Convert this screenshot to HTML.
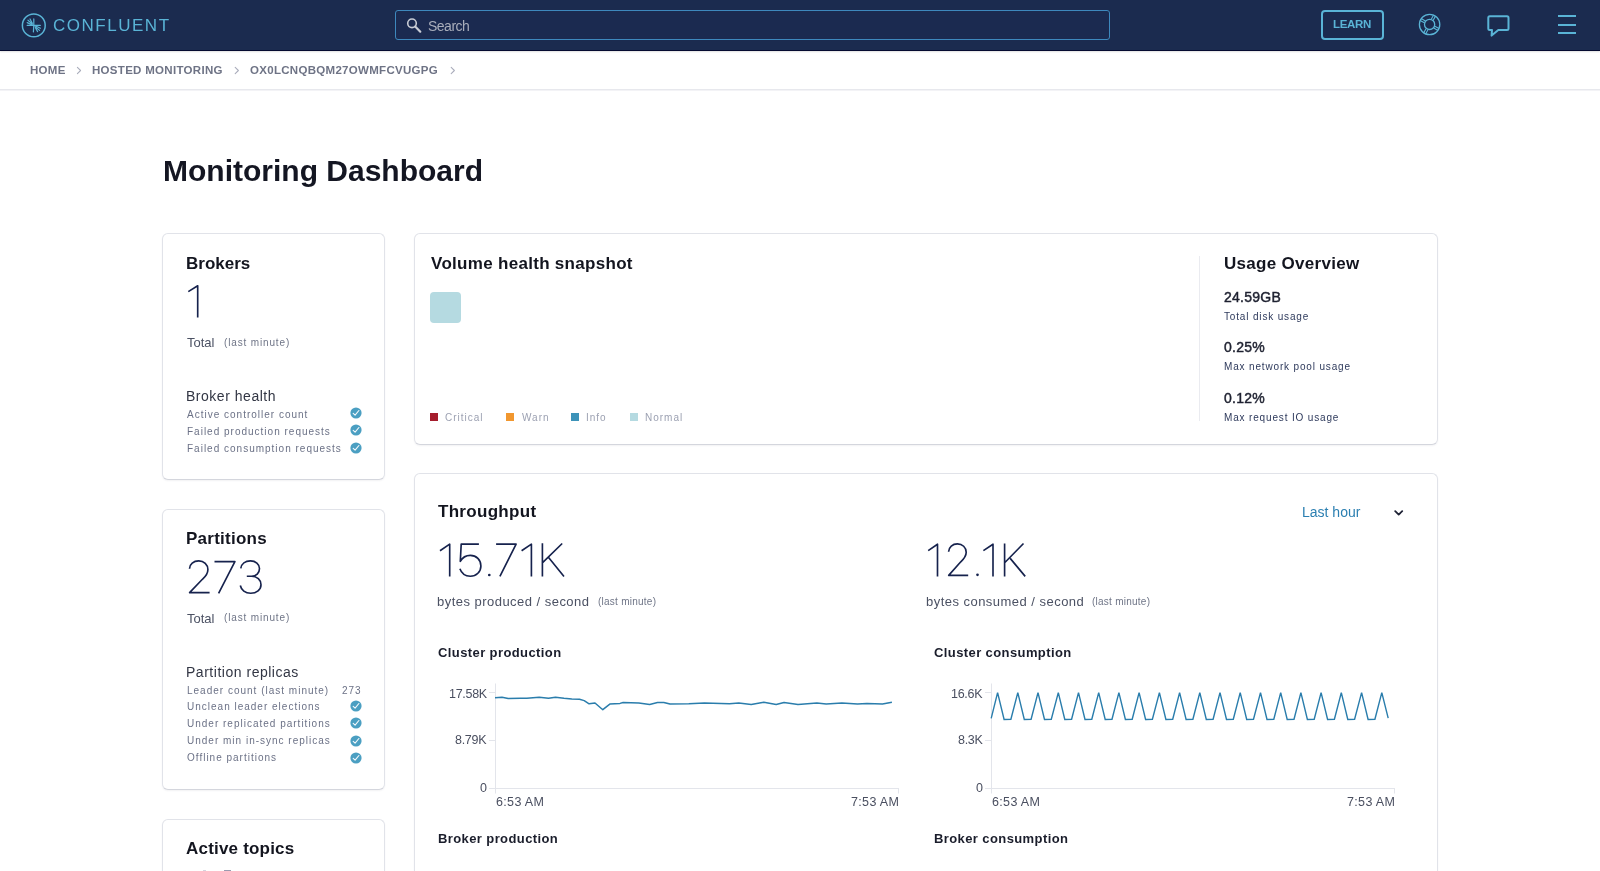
<!DOCTYPE html>
<html><head><meta charset="utf-8"><title>Monitoring Dashboard</title>
<style>
*{box-sizing:border-box;margin:0;padding:0}
html,body{width:1600px;height:871px;overflow:hidden;background:#fff;font-family:"Liberation Sans",sans-serif;color:#13151f}
.a{position:absolute;white-space:nowrap;line-height:1;will-change:transform}
#nav{position:absolute;left:0;top:0;width:1600px;height:51px;background:#1b2b4f;border-bottom:1px solid #050a30;box-shadow:0 1px 1.5px rgba(0,0,0,.12)}
#crumb{position:absolute;left:0;top:51px;width:1600px;height:39px;border-bottom:1px solid #e7e8ed;box-shadow:0 1px 0 #f3f3f6}
.card{position:absolute;border:1px solid #e1e3e9;border-bottom-color:#d4d6dd;border-radius:6px;background:#fff;box-shadow:0 1px 2px rgba(30,40,70,.06)}
.ttl{font-size:17px;font-weight:bold;letter-spacing:.3px;color:#13151f}
.tot{font-size:13px;color:#4b5163}
.lm{font-size:10px;letter-spacing:.85px;color:#6f7587}
.sub{font-size:14px;letter-spacing:.52px;color:#323644}
.row{font-size:10px;letter-spacing:1px;color:#6b7186}
.lg{font-size:10px;letter-spacing:1px;color:#9ca1b2}
.sq{position:absolute;width:8px;height:8px}
.uv{font-size:14px;letter-spacing:.25px;color:#1e2130;-webkit-text-stroke:.45px #1e2130}
.ul{font-size:10px;letter-spacing:.84px;color:#2e3a5c}
.ax{font-size:12.5px;color:#4a4f60;letter-spacing:-.3px}
.bc{top:14px;font-size:11.5px;font-weight:bold;letter-spacing:.3px;color:#6e7385}
.h3{font-size:13px;font-weight:bold;letter-spacing:.4px;color:#1a1d2b}
</style></head>
<body>
<div id="nav">
  <!-- logo -->
  <svg class="a" style="left:21px;top:13px" width="26" height="26" viewBox="0 0 26 26">
    <circle cx="12.8" cy="12.4" r="11.4" fill="none" stroke="#5ab4d6" stroke-width="1.5"/>
    <g stroke="#5ab4d6" stroke-width="1.2" stroke-linecap="round" fill="none">
      <path d="M12.8,12.4 L12.8,5.9 M12.8,12.4 L6.2,12.4 M12.8,12.4 L19.3,12.4 M12.8,12.4 L12.4,18.9"/>
      <path d="M11.6,11.2 L7.0,7.2 M11.2,10.0 L9.0,6.0 M10.4,11.6 L6.2,9.6"/>
      <path d="M14.0,13.6 L18.6,17.4 M14.4,14.8 L16.6,18.6 M15.2,13.2 L19.4,15.2"/>
    </g>
  </svg>
  <div class="a" style="left:53.4px;top:16.6px;font-size:17px;letter-spacing:1.52px;color:#5ab4d6">CONFLUENT</div>
  <!-- search -->
  <div class="a" style="left:395px;top:10px;width:715px;height:30px;border:1px solid #3e88bd;border-radius:3px;background:#1b2a50"></div>
  <div class="a" style="left:427.8px;top:18.95px;font-size:14px;letter-spacing:-.5px;color:#a9aebb">Search</div>
  <!-- learn -->
  <div class="a" style="left:1321px;top:10px;width:63px;height:29.5px;border:2px solid #5ab4d6;border-radius:4px"></div>
  <div class="a" style="left:1333.3px;top:19px;font-size:11.5px;font-weight:bold;letter-spacing:-.3px;color:#5ab4d6">LEARN</div>
  <svg class="a" style="left:404px;top:15px" width="20" height="20" viewBox="0 0 20 20">
    <circle cx="8" cy="8.3" r="4.3" fill="none" stroke="#c8ccd5" stroke-width="1.6"/>
    <path d="M11.2,11.5 L16.3,16.7" stroke="#c8ccd5" stroke-width="2.2" stroke-linecap="round"/>
  </svg>
  <svg class="a" style="left:1417px;top:12px" width="26" height="26" viewBox="0 0 26 26">
    <g fill="none" stroke="#5ab4d6" stroke-width="1.3">
      <circle cx="12.6" cy="12.5" r="10.2"/>
      <circle cx="12.6" cy="12.4" r="5.1"/>
      <path d="M14.26,7.24 L16.58,3.05 M16.18,8.31 L18.51,4.11 M17.86,14.16 L22.05,16.48 M16.79,16.08 L20.99,18.41 M10.94,17.76 L8.62,21.95 M9.02,16.69 L6.69,20.89 M7.34,10.84 L3.15,8.52 M8.41,8.92 L4.21,6.59" stroke-width="1.1"/>
    </g>
  </svg>
  <svg class="a" style="left:1480px;top:5px" width="40" height="40" viewBox="1480 5 40 40">
    <path d="M1492,30.1 L1489.8,30.1 Q1488.3,30.1 1488.3,28.6 L1488.3,17.8 Q1488.3,16.3 1489.8,16.3 L1507,16.3 Q1508.5,16.3 1508.5,17.8 L1508.5,28.6 Q1508.5,30.1 1507,30.1 L1498.3,30.1 L1491.6,35.6 Z" fill="none" stroke="#5ab4d6" stroke-width="2" stroke-linejoin="round"/>
  </svg>
  <div class="a" style="left:1557.5px;top:15px;width:18.2px;height:2px;background:#5ab4d6"></div>
  <div class="a" style="left:1557.5px;top:23.6px;width:18.2px;height:2px;background:#5ab4d6"></div>
  <div class="a" style="left:1557.5px;top:32.1px;width:18.2px;height:2px;background:#5ab4d6"></div>
</div>
<div id="crumb">
  <div class="a bc" style="left:29.8px">HOME</div>
  <div class="a bc" style="left:92.3px">HOSTED MONITORING</div>
  <div class="a bc" style="left:250.2px">OX0LCNQBQM27OWMFCVUGPG</div>
  <svg class="a" style="left:0;top:0" width="600" height="38" viewBox="0 51 600 38">
    <g fill="none" stroke="#a9acbb" stroke-width="1.05" stroke-linecap="round" stroke-linejoin="round">
      <path d="M77.4,67.4 L80.6,70.5 L77.4,73.6"/>
      <path d="M235.2,67.4 L238.4,70.5 L235.2,73.6"/>
      <path d="M451.2,67.4 L454.4,70.5 L451.2,73.6"/>
    </g>
  </svg>
</div>

<div class="a" style="left:162.6px;top:155.9px;font-size:30px;font-weight:bold;color:#141622">Monitoring Dashboard</div>

<!-- Brokers card -->
<div class="card" style="left:162px;top:233px;width:223px;height:247px"></div>
<div class="a ttl" style="left:185.6px;top:254.5px;letter-spacing:0">Brokers</div>
<div class="a tot" style="left:186.5px;top:335.6px">Total</div>
<div class="a lm" style="left:223.6px;top:337.5px">(last minute)</div>
<div class="a sub" style="left:185.6px;top:389.3px">Broker health</div>
<div class="a row" style="left:186.5px;top:409.6px">Active controller count</div>
<div class="a row" style="left:186.5px;top:427px">Failed production requests</div>
<div class="a row" style="left:186.5px;top:444.3px">Failed consumption requests</div>

<!-- Partitions card -->
<div class="card" style="left:162px;top:509px;width:223px;height:281px"></div>
<div class="a ttl" style="left:185.6px;top:530.2px;letter-spacing:.25px">Partitions</div>
<div class="a tot" style="left:186.5px;top:611.5px">Total</div>
<div class="a lm" style="left:223.6px;top:613.4px">(last minute)</div>
<div class="a sub" style="left:185.6px;top:664.5px">Partition replicas</div>
<div class="a row" style="left:186.5px;top:685.6px">Leader count (last minute)</div>
<div class="a row" style="left:342px;top:685.6px">273</div>
<div class="a row" style="left:186.5px;top:702.1px">Unclean leader elections</div>
<div class="a row" style="left:186.5px;top:719.2px">Under replicated partitions</div>
<div class="a row" style="left:186.5px;top:736.3px">Under min in-sync replicas</div>
<div class="a row" style="left:186.5px;top:753.4px">Offline partitions</div>


<svg class="a" style="left:349.7px;top:407px" width="12" height="12" viewBox="0 0 12 12"><circle cx="6" cy="6" r="5.6" fill="#4b9fc2"/><path d="M3.2,6.4 L5.1,8.2 L8.9,3.5" fill="none" stroke="#f4f8fb" stroke-width="1.1" stroke-linecap="round" stroke-linejoin="round"/></svg>
<svg class="a" style="left:349.7px;top:424.1px" width="12" height="12" viewBox="0 0 12 12"><circle cx="6" cy="6" r="5.6" fill="#4b9fc2"/><path d="M3.2,6.4 L5.1,8.2 L8.9,3.5" fill="none" stroke="#f4f8fb" stroke-width="1.1" stroke-linecap="round" stroke-linejoin="round"/></svg>
<svg class="a" style="left:349.7px;top:441.5px" width="12" height="12" viewBox="0 0 12 12"><circle cx="6" cy="6" r="5.6" fill="#4b9fc2"/><path d="M3.2,6.4 L5.1,8.2 L8.9,3.5" fill="none" stroke="#f4f8fb" stroke-width="1.1" stroke-linecap="round" stroke-linejoin="round"/></svg>
<svg class="a" style="left:349.7px;top:700.1px" width="12" height="12" viewBox="0 0 12 12"><circle cx="6" cy="6" r="5.6" fill="#4b9fc2"/><path d="M3.2,6.4 L5.1,8.2 L8.9,3.5" fill="none" stroke="#f4f8fb" stroke-width="1.1" stroke-linecap="round" stroke-linejoin="round"/></svg>
<svg class="a" style="left:349.7px;top:717.3px" width="12" height="12" viewBox="0 0 12 12"><circle cx="6" cy="6" r="5.6" fill="#4b9fc2"/><path d="M3.2,6.4 L5.1,8.2 L8.9,3.5" fill="none" stroke="#f4f8fb" stroke-width="1.1" stroke-linecap="round" stroke-linejoin="round"/></svg>
<svg class="a" style="left:349.7px;top:734.5px" width="12" height="12" viewBox="0 0 12 12"><circle cx="6" cy="6" r="5.6" fill="#4b9fc2"/><path d="M3.2,6.4 L5.1,8.2 L8.9,3.5" fill="none" stroke="#f4f8fb" stroke-width="1.1" stroke-linecap="round" stroke-linejoin="round"/></svg>
<svg class="a" style="left:349.7px;top:751.7px" width="12" height="12" viewBox="0 0 12 12"><circle cx="6" cy="6" r="5.6" fill="#4b9fc2"/><path d="M3.2,6.4 L5.1,8.2 L8.9,3.5" fill="none" stroke="#f4f8fb" stroke-width="1.1" stroke-linecap="round" stroke-linejoin="round"/></svg>
<!-- Active topics card -->
<div class="card" style="left:162px;top:819px;width:223px;height:80px"></div>
<div class="a ttl" style="left:185.8px;top:839.9px;letter-spacing:.2px">Active topics</div>

<div class="a" style="left:203px;top:870px;width:3px;height:1px;background:#d4d5de"></div>
<div class="a" style="left:224px;top:870px;width:6.5px;height:1px;background:#9a9bb0"></div>

<!-- Volume card -->
<div class="card" style="left:414px;top:233px;width:1024px;height:212px"></div>
<div class="a ttl" style="left:430.5px;top:255.2px">Volume health snapshot</div>
<div class="a" style="left:430px;top:292px;width:31px;height:31px;border-radius:4px;background:#b5dae1"></div>
<div class="sq" style="left:430px;top:413px;background:#a51d2d"></div>
<div class="a lg" style="left:445.4px;top:412.7px">Critical</div>
<div class="sq" style="left:506px;top:413px;background:#f1972f"></div>
<div class="a lg" style="left:521.9px;top:412.7px">Warn</div>
<div class="sq" style="left:571px;top:413px;background:#3d93b9"></div>
<div class="a lg" style="left:586.3px;top:412.7px">Info</div>
<div class="sq" style="left:630px;top:413px;background:#b5dae1"></div>
<div class="a lg" style="left:645.4px;top:412.7px">Normal</div>
<div class="a" style="left:1199px;top:256px;width:1px;height:165px;background:#eaebf0"></div>
<div class="a ttl" style="left:1224px;top:254.7px">Usage Overview</div>
<div class="a uv" style="left:1224px;top:289.7px">24.59GB</div>
<div class="a ul" style="left:1224px;top:312px">Total disk usage</div>
<div class="a uv" style="left:1224px;top:340.2px">0.25%</div>
<div class="a ul" style="left:1224px;top:362px">Max network pool usage</div>
<div class="a uv" style="left:1224px;top:390.7px">0.12%</div>
<div class="a ul" style="left:1224px;top:413px">Max request IO usage</div>

<!-- Throughput card -->
<div class="card" style="left:414px;top:473px;width:1024px;height:460px"></div>
<div class="a ttl" style="left:438px;top:503.1px">Throughput</div>
<div class="a" style="left:1302px;top:504.7px;font-size:14px;color:#2b7fb1">Last hour</div>
<div class="a" style="left:437.4px;top:594.5px;font-size:13px;letter-spacing:.47px;color:#4b5163">bytes produced / second</div>
<div class="a" style="left:597.6px;top:596.5px;font-size:10px;letter-spacing:.25px;color:#6f7587">(last minute)</div>
<div class="a" style="left:925.9px;top:594.5px;font-size:13px;letter-spacing:.47px;color:#4b5163">bytes consumed / second</div>
<div class="a" style="left:1091.5px;top:596.5px;font-size:10px;letter-spacing:.25px;color:#6f7587">(last minute)</div>
<div class="a h3" style="left:438px;top:646.4px">Cluster production</div>
<div class="a h3" style="left:933.7px;top:646.4px">Cluster consumption</div>
<div class="a h3" style="left:438px;top:832.4px">Broker production</div>
<div class="a h3" style="left:933.9px;top:832.4px">Broker consumption</div>
<svg class="a" style="left:0;top:0" width="1600" height="871" viewBox="0 0 1600 871">
  <g stroke="#e3e5eb" stroke-width="1" fill="none">
    <path d="M495.5,683.5 L495.5,793.5 M489,788.5 L899,788.5 M898.5,788 L898.5,793.5 M489,692.5 L495,692.5 M489,740.5 L495,740.5"/>
    <path d="M991.5,683.5 L991.5,793.5 M985,788.5 L1395,788.5 M1394.5,788 L1394.5,793.5 M985,692.5 L991,692.5 M985,740.5 L991,740.5"/>
  </g>
  <path d="M495.0,697.8 L502.0,697.2 L508.2,698.6 L520.6,698.3 L526.8,698.3 L539.2,697.2 L548.5,698.3 L555.5,697.2 L564.0,698.3 L571.8,699.0 L579.5,699.3 L584.2,700.6 L589.1,703.8 L595.0,703.0 L602.8,709.7 L609.8,704.1 L620.0,703.4 L623.1,702.5 L638.8,703.1 L649.7,704.4 L657.5,702.5 L663.8,702.5 L670.0,704.0 L688.8,703.8 L704.4,703.1 L729.4,703.8 L738.8,703.1 L751.2,704.4 L763.8,702.2 L776.2,704.4 L784.0,702.5 L798.0,704.4 L816.9,703.1 L826.2,704.0 L841.9,703.1 L857.5,704.0 L866.9,703.4 L882.5,704.0 L891.9,702.2" fill="none" stroke="#2a7dac" stroke-width="1.5" stroke-linejoin="round"/>
  <path d="M991.2,718.4 L997.6,692.6 L1004.1,719.5 L1010.9,719.3 L1017.8,692.6 L1024.3,719.5 L1031.1,719.3 L1038.0,692.6 L1044.5,719.5 L1051.3,719.3 L1058.3,692.6 L1064.8,719.5 L1071.6,719.3 L1078.5,692.6 L1085.0,719.5 L1091.8,719.3 L1098.7,692.6 L1105.2,719.5 L1112.0,719.3 L1118.9,692.6 L1125.4,719.5 L1132.2,719.3 L1139.1,692.6 L1145.6,719.5 L1152.4,719.3 L1159.4,692.6 L1165.9,719.5 L1172.7,719.3 L1179.6,692.6 L1186.1,719.5 L1192.9,719.3 L1199.8,692.6 L1206.3,719.5 L1213.1,719.3 L1220.0,692.6 L1226.5,719.5 L1233.3,719.3 L1240.2,692.6 L1246.7,719.5 L1253.5,719.3 L1260.5,692.6 L1267.0,719.5 L1273.8,719.3 L1280.7,692.6 L1287.2,719.5 L1294.0,719.3 L1300.9,692.6 L1307.4,719.5 L1314.2,719.3 L1321.1,692.6 L1327.6,719.5 L1334.4,719.3 L1341.3,692.6 L1347.8,719.5 L1354.6,719.3 L1361.6,692.6 L1368.1,719.5 L1374.9,719.3 L1381.8,692.6 L1388.2,718.2" fill="none" stroke="#2a7dac" stroke-width="1.4" stroke-linejoin="miter"/>
  <path d="M1395.2,511.2 L1398.7,514.6 L1402.2,511.2" fill="none" stroke="#1e2235" stroke-width="1.8" stroke-linecap="round" stroke-linejoin="round"/>
</svg>
<div class="a ax" style="right:1113.5px;top:687.7px">17.58K</div>
<div class="a ax" style="right:1113.5px;top:734.2px">8.79K</div>
<div class="a ax" style="right:1113.5px;top:781.9px">0</div>
<div class="a ax" style="left:495.5px;top:795.5px;letter-spacing:.35px">6:53 AM</div>
<div class="a ax" style="left:850.5px;top:795.5px;letter-spacing:.35px">7:53 AM</div>
<div class="a ax" style="right:617.8px;top:687.7px">16.6K</div>
<div class="a ax" style="right:617.8px;top:734.2px">8.3K</div>
<div class="a ax" style="right:617.8px;top:781.9px">0</div>
<div class="a ax" style="left:991.5px;top:795.5px;letter-spacing:.35px">6:53 AM</div>
<div class="a ax" style="left:1346.5px;top:795.5px;letter-spacing:.35px">7:53 AM</div>
<svg class="a" style="left:0;top:0" width="1600" height="871" viewBox="0 0 1600 871">
  <g fill="none" stroke="#16224d" stroke-width="1.65" stroke-linejoin="round">
    <path d="M188.3,291.6 L197.7,285.8 L197.7,317.6"/>
    <path d="M189.5,568.7 C189.5,564 193.6,560.9 198.7,560.9 C203.9,560.9 207.9,564.6 207.9,569.6 C207.9,573.3 205.9,576.4 202.4,579.3 L189.6,592.6 L209.6,592.6"/>
    <path d="M214.5,561.6 L234.9,561.6 L218.6,593.4"/>
    <path d="M240.8,568.4 C241.4,563.8 245.4,560.9 250.4,560.9 C255.6,560.9 259.5,564.2 259.5,568.6 C259.5,573 256.2,576.2 251.5,576.2 L246.8,576.2 M251.5,576.2 C257.1,576.2 261,580 261,584.7 C261,589.6 256.6,593.2 250.7,593.2 C245.3,593.2 241.2,590 240.3,585.5"/>
    <path d="M440,550.8 L449.7,544.1 L449.7,576.4"/>
    <path d="M478.9,544.1 L461.2,544.1 L460.3,561.4 C462.4,557.6 466,555.4 470.3,555.4 C476.4,555.4 480.9,560 480.9,565.9 C480.9,571.8 476.4,576.2 470.3,576.2 C465.4,576.2 461.5,573.3 459.9,568.8"/>
    <path d="M496.1,544.1 L516.1,544.1 L499.9,576.4"/>
    <path d="M521.6,550.8 L531.4,544.1 L531.4,576.4"/>
    <path d="M542.4,543.3 L542.4,576.4 M562.2,543.5 L542.6,562.7 M548.6,557.6 L564,576.4"/>
    <path d="M928.2,550.6 L937.5,544.2 L937.5,576.4"/>
    <path d="M948.6,551.8 C948.8,546.9 952.6,543.9 957.4,543.9 C962.4,543.9 966.2,547.4 966.2,552.3 C966.2,555.8 964.3,558.6 960.8,561.8 L948.7,575.4 L968.2,575.4"/>
    <path d="M983.4,550.6 L993,544.2 L993,576.4"/>
    <path d="M1004.6,543.4 L1004.6,576.4 M1023.5,543.5 L1004.9,562.5 M1010.2,558.4 L1025.2,576.4"/>
  </g>
  <g fill="#16224d"><circle cx="489.3" cy="575" r="1.35"/><circle cx="977.5" cy="574.8" r="1.35"/></g>
</svg>
</body></html>
